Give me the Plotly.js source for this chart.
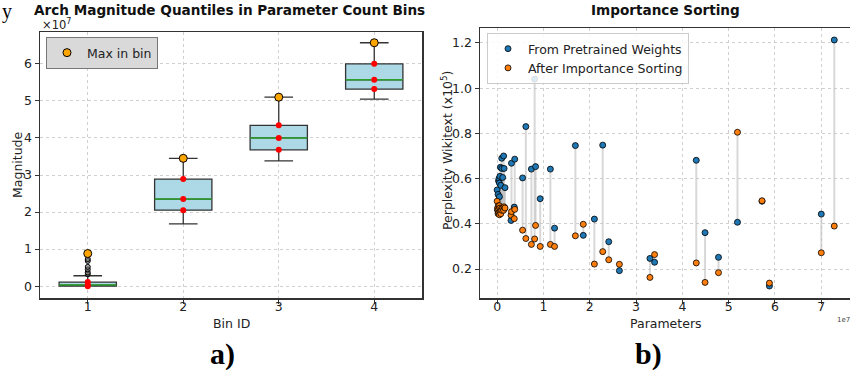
<!DOCTYPE html>
<html><head><meta charset="utf-8">
<script src="https://cdn.plot.ly/plotly-3.0.1.min.js"></script>
<style>html,body{margin:0;padding:0;background:#fff}#chart{width:850px;height:372px}</style>
</head><body><div id="chart"></div>
<script>
// ---- Panel a) : box stats per bin (x1e7) ----
const bins = [1, 2, 3, 4];
const q1 = [0.0, 2.05, 3.68, 5.32];
const med = [0.03, 2.35, 4.0, 5.57];
const q3 = [0.11, 2.89, 4.34, 6.0];
const lowW = [0.0, 1.68, 3.38, 5.05];
const highW = [0.28, 3.45, 5.1, 6.57];
const maxInBin = [0.88, 3.45, 5.1, 6.57];
const outlierBin = [1, 1, 1, 1, 1, 1];
const outlierVal = [0.32, 0.37, 0.45, 0.52, 0.68, 0.73];

// ---- Panel b) : parameters (x1e7), perplexity (x1e5) ----
const params = [0.00, 0.01, 0.02, 0.02, 0.03, 0.03, 0.04, 0.05, 0.05, 0.06, 0.07, 0.08, 0.10, 0.10, 0.12, 0.14, 0.15, 0.17,
  0.30, 0.31, 0.37, 0.38, 0.55, 0.62, 0.74, 0.81, 0.83, 0.93, 1.15, 1.24, 1.69, 1.86, 2.10, 2.28, 2.41, 2.64,
  3.30, 3.40, 4.30, 4.49, 4.78, 5.19, 5.72, 5.88, 7.00, 7.28];
const pretrained = [0.55, 0.46, 0.53, 0.47, 0.59, 0.48, 0.60, 0.58, 0.52, 0.61, 0.65, 0.57, 0.69, 0.645, 0.605, 0.70, 0.645, 0.56,
  0.415, 0.668, 0.474, 0.686, 0.603, 0.83, 0.642, 1.04, 0.653, 0.511, 0.642, 0.381, 0.746, 0.349, 0.421, 0.748, 0.321, 0.193,
  0.247, 0.230, 0.681, 0.361, 0.252, 0.407, 0.50, 0.125, 0.443, 1.213];
const sorted = [0.50, 0.47, 0.46, 0.445, 0.48, 0.45, 0.45, 0.44, 0.48, 0.47, 0.455, 0.445, 0.47, 0.46, 0.47, 0.46, 0.475, 0.47,
  0.438, 0.454, 0.423, 0.464, 0.372, 0.335, 0.309, 0.333, 0.393, 0.30, 0.309, 0.30, 0.347, 0.398, 0.222, 0.277, 0.241, 0.221,
  0.163, 0.264, 0.227, 0.141, 0.184, 0.805, 0.502, 0.138, 0.272, 0.390];

const font = 'DejaVu Sans, sans-serif';
const traces = [];

traces.push({
  type: 'box', x: bins, q1: q1, median: med, q3: q3, lowerfence: lowW, upperfence: highW,
  width: 0.6, whiskerwidth: 0.5, boxpoints: false, fillcolor: '#add8e6',
  line: {color: '#333333', width: 1.3}, xaxis: 'x', yaxis: 'y', showlegend: false, hoverinfo: 'skip'
});
const mx = [], my = [];
bins.forEach((b, i) => { mx.push(b - 0.3, b + 0.3, null); my.push(med[i], med[i], null); });
traces.push({type: 'scatter', mode: 'lines', x: mx, y: my, line: {color: '#2ca02c', width: 1.5},
  xaxis: 'x', yaxis: 'y', showlegend: false, hoverinfo: 'skip'});
traces.push({type: 'scatter', mode: 'markers', x: outlierBin, y: outlierVal,
  marker: {size: 5, color: 'rgba(120,120,120,0.6)', line: {color: '#000', width: 1}},
  xaxis: 'x', yaxis: 'y', showlegend: false, hoverinfo: 'skip'});
const rx = [], ry = [];
bins.forEach((b, i) => { rx.push(b, b, b); ry.push(q1[i], med[i], q3[i]); });
traces.push({type: 'scatter', mode: 'markers', x: rx, y: ry, marker: {size: 6, color: 'red'},
  xaxis: 'x', yaxis: 'y', showlegend: false, hoverinfo: 'skip'});
traces.push({type: 'scatter', mode: 'markers', x: bins, y: maxInBin, name: 'Max in bin',
  marker: {size: 8, color: 'orange', line: {color: '#000', width: 1}},
  xaxis: 'x', yaxis: 'y', legend: 'legend'});

const lx = [], ly = [];
params.forEach((p, i) => { lx.push(p, p, null); ly.push(pretrained[i], sorted[i], null); });
traces.push({type: 'scatter', mode: 'lines', x: lx, y: ly, line: {color: 'rgba(190,190,190,0.6)', width: 2},
  xaxis: 'x2', yaxis: 'y2', showlegend: false, hoverinfo: 'skip'});
traces.push({type: 'scatter', mode: 'markers', x: params, y: pretrained, name: 'From Pretrained Weights',
  marker: {size: 6, color: '#1f77b4', line: {color: '#000', width: 0.8}}, xaxis: 'x2', yaxis: 'y2', legend: 'legend2'});
traces.push({type: 'scatter', mode: 'markers', x: params, y: sorted, name: 'After Importance Sorting',
  marker: {size: 6, color: '#ff7f0e', line: {color: '#000', width: 0.8}}, xaxis: 'x2', yaxis: 'y2', legend: 'legend2'});

const axBase = {
  showgrid: true, gridcolor: '#c4c4c4', griddash: 'dot', gridwidth: 0.8, zeroline: false,
  showline: true, linecolor: '#333', linewidth: 1.5, ticks: 'outside', ticklen: 4, tickcolor: '#333',
  tickfont: {family: font, size: 12.5, color: '#222'}
};

function ann(text, px, py, size, extra) {
  return Object.assign({text: text, x: px / 850, y: 1 - py / 372, xref: 'paper', yref: 'paper',
    xanchor: 'center', yanchor: 'middle', showarrow: false, font: {family: font, size: size, color: '#222'}}, extra || {});
}

const layout = {
  width: 850, height: 372, margin: {l: 0, r: 0, t: 0, b: 0},
  paper_bgcolor: '#fff', plot_bgcolor: '#fff', font: {family: font},
  xaxis: Object.assign({}, axBase, {domain: [40/850, 422/850], range: [0.5, 4.5], tickvals: bins, mirror: true, anchor: 'y', ticklabelstandoff: -8}),
  yaxis: Object.assign({}, axBase, {domain: [1 - 298/372, 1 - 32/372], range: [-0.32, 6.86], tickvals: [0,1,2,3,4,5,6], mirror: true, anchor: 'x'}),
  xaxis2: Object.assign({}, axBase, {domain: [480/850, 1], range: [-0.37, 7.62], tickvals: [0,1,2,3,4,5,6,7], mirror: true, anchor: 'y2', ticklabelstandoff: -8}),
  yaxis2: Object.assign({}, axBase, {domain: [1 - 298/372, 1 - 28/372], range: [0.072, 1.266], tickvals: [0.2,0.4,0.6,0.8,1.0,1.2], tickformat: '.1f', anchor: 'x2'}),
  legend: {x: 46/850, y: 1 - 37/372, xanchor: 'left', yanchor: 'top', bgcolor: '#d9d9d9', bordercolor: '#777', borderwidth: 1,
    font: {family: font, size: 12.5, color: '#222'}},
  legend2: {x: 487/850, y: 1 - 33/372, xanchor: 'left', yanchor: 'top', bgcolor: 'rgba(255,255,255,0.85)', bordercolor: '#ccc', borderwidth: 1,
    font: {family: font, size: 12.5, color: '#222'}, tracegroupgap: 0},
  annotations: [
    ann('<b>Arch Magnitude Quantiles in Parameter Count Bins</b>', 229, 10, 13.6, {font: {family: font, size: 13.6, color: '#111'}}),
    ann('<b>Importance Sorting</b>', 665, 10, 13.6, {font: {family: font, size: 13.6, color: '#111'}}),
    ann('×10<sup>7</sup>', 40, 25, 11.5, {xanchor: 'left'}),
    ann('Magnitude', 17, 165, 12.5, {textangle: -90}),
    ann('Bin ID', 231, 323, 12.5),
    ann('Parameters', 666, 323, 12.5),
    ann('Perplexity Wikitext (x10<sup>5</sup>)', 447, 150, 12.5, {textangle: -90}),
    ann('1e7', 843, 320, 7, {font: {family: font, size: 7, color: '#444'}}),
    ann('<b>a)</b>', 222, 354, 30, {font: {family: 'Liberation Serif, serif', size: 30, color: '#000'}}),
    ann('<b>b)</b>', 648, 354, 30, {font: {family: 'Liberation Serif, serif', size: 30, color: '#000'}}),
    ann('y', 7, 12, 20, {font: {family: 'Liberation Serif, serif', size: 20, color: '#000'}})
  ]
};

Plotly.newPlot('chart', traces, layout, {staticPlot: true, displayModeBar: false});
</script></body></html>
